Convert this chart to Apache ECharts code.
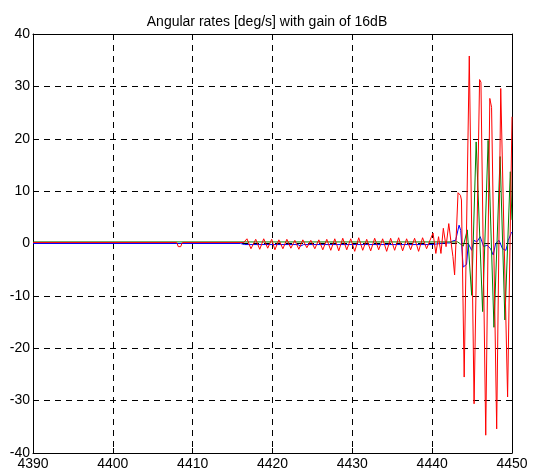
<!DOCTYPE html>
<html>
<head>
<meta charset="utf-8">
<script src="https://cdn.jsdelivr.net/npm/echarts@6/dist/echarts.min.js"></script>
<style>
html,body{margin:0;padding:0;background:#fff;}
#chart{width:534px;height:474px;}
</style>
</head>
<body>
<div id="chart"></div>
<script>
// Title and axis ticks
var titleText = 'Angular rates [deg/s] with gain of 16dB';
var xTicks = [4390, 4400, 4410, 4420, 4430, 4440, 4450];
var yTicks = [-40, -30, -20, -10, 0, 10, 20, 30, 40];

// Blue series (time, value)
var blueX = [4390, 4416.0, 4416.5, 4423.2, 4423.5, 4423.9, 4440.0, 4441.5, 4442.2, 4442.6, 4442.94, 4443.37, 4443.58, 4443.88, 4444.31, 4444.52, 4444.95, 4445.25, 4445.6, 4446.02, 4446.45, 4446.88, 4447.31, 4447.65, 4447.95, 4448.38, 4448.81, 4449.24, 4449.54, 4449.88, 4450];
var blueY = [0.0, 0.0, -0.2, -0.2, -0.5, -0.2, -0.2, 0.1, 0.1, 0.5, 0.6, 3.5, 2.5, -4.5, -4.0, 0.0, -1.3, 0.6, 0.3, 1.3, -0.6, -0.3, -1.0, -2.2, 0.0, 0.6, -1.0, -1.3, 0.6, 1.9, 2.2];

// Green series
var greenX = [4390, 4443.2, 4443.9, 4444.4, 4444.95, 4445.51, 4446.32, 4447.01, 4447.74, 4448.51, 4449.11, 4449.79, 4450];
var greenY = [0.3, 0.3, -0.5, 2.6, -9.9, 19.4, -13.0, 19.7, -16.0, 16.6, -14.6, 13.7, 4.5];

// Red series
var redX = [4390, 4408.0, 4408.2, 4408.5, 4408.7, 4416.4,
  4416.8, 4417.3, 4417.9, 4418.4, 4418.9, 4419.4, 4419.9, 4420.3, 4420.8, 4421.3,
  4421.8, 4422.3, 4422.8, 4423.3, 4423.8, 4424.3, 4424.8, 4425.3, 4425.8, 4426.3,
  4426.8, 4427.3, 4427.8, 4428.3, 4428.8, 4429.3, 4429.8, 4430.3, 4430.8, 4431.3,
  4431.8, 4432.3, 4432.8, 4433.3, 4433.8, 4434.3, 4434.8, 4435.3, 4435.8, 4436.3,
  4436.8, 4437.3, 4437.8, 4438.3, 4438.8, 4439.3, 4439.7,
  4440.11, 4440.46, 4440.80, 4441.10, 4441.40, 4441.74, 4442.08, 4442.34, 4442.60, 4442.81,
  4443.24, 4443.54, 4443.67, 4444.01, 4444.65, 4444.78, 4445.25, 4445.94, 4446.11, 4446.71,
  4447.22, 4447.44, 4448.08, 4448.59, 4449.45, 4450.0];
var redY = [0.2, 0.2, -0.6, -0.6, 0.2, 0.2,
  0.9, -1.0, 0.8, -1.1, 0.9, -0.9, 0.8, -1.2, 0.7, -1.0,
  0.8, -0.9, 0.6, -1.1, 0.7, -0.8, 0.6, -1.0, 0.7, -1.2,
  0.8, -1.3, 0.9, -1.4, 1.0, -1.2, 0.9, -1.5, 1.1, -1.3,
  0.8, -1.4, 1.0, -1.2, 0.9, -1.5, 1.0, -1.3, 1.1, -1.4,
  0.9, -1.2, 1.0, -1.5, 1.1, -1.0, 0.5,
  2.0, -1.9, 1.3, -1.9, 2.9, -0.6, 3.8, 0.5, -2.5, -6.0,
  9.7, 9.2, 8.3, -25.5, 35.8, 35.8, -30.6, 31.3, 30.8, -36.6,
  27.7, 26.0, -35.4, 29.6, -29.3, 24.2];

function pairs(xs, ys) { return xs.map(function (x, i) { return [x, ys[i]]; }); }

var chart = echarts.init(document.getElementById('chart'), null, {renderer: 'canvas'});
var font = 'Liberation Sans, Arial, sans-serif';
var gridLine = {show: true, lineStyle: {color: '#000', width: 1, type: [6, 5]}};
var tick = {show: true, inside: true, length: 5, lineStyle: {color: '#000', width: 1}};
var line = {show: true, onZero: false, lineStyle: {color: '#000', width: 1}};
var plain = function (v) { return String(v); };

chart.setOption({
  animation: false,
  backgroundColor: '#fff',
  title: {
    text: titleText, left: 'center', top: 10,
    textStyle: {fontFamily: font, fontSize: 14, fontWeight: 'normal', color: '#000'}
  },
  grid: {left: 33, right: 22, top: 34, bottom: 21, containLabel: false, outerBoundsMode: 'none'},
  xAxis: [{
    type: 'value', min: xTicks[0], max: xTicks[xTicks.length - 1], interval: 10, position: 'bottom',
    axisLine: line, axisTick: tick, splitLine: gridLine,
    axisLabel: {color: '#000', fontFamily: font, fontSize: 14, margin: 4, formatter: plain}
  }, {
    type: 'value', min: xTicks[0], max: xTicks[xTicks.length - 1], interval: 10, position: 'top',
    axisLine: line, axisTick: tick, splitLine: {show: false}, axisLabel: {show: false}
  }],
  yAxis: [{
    type: 'value', min: yTicks[0], max: yTicks[yTicks.length - 1], interval: 10, position: 'left',
    axisLine: line, axisTick: tick, splitLine: gridLine,
    axisLabel: {color: '#000', fontFamily: font, fontSize: 14, margin: 3, formatter: plain}
  }, {
    type: 'value', min: yTicks[0], max: yTicks[yTicks.length - 1], interval: 10, position: 'right',
    axisLine: line, axisTick: tick, splitLine: {show: false}, axisLabel: {show: false}
  }],
  series: [
    {type: 'line', name: 'blue', data: pairs(blueX, blueY), showSymbol: false, symbol: 'none',
     lineStyle: {color: '#0000ff', width: 1}, itemStyle: {color: '#0000ff'}, clip: true},
    {type: 'line', name: 'green', data: pairs(greenX, greenY), showSymbol: false, symbol: 'none',
     lineStyle: {color: '#008000', width: 1}, itemStyle: {color: '#008000'}, clip: true},
    {type: 'line', name: 'red', data: pairs(redX, redY), showSymbol: false, symbol: 'none',
     lineStyle: {color: '#ff0000', width: 1}, itemStyle: {color: '#ff0000'}, clip: true}
  ]
});
</script>
</body>
</html>
